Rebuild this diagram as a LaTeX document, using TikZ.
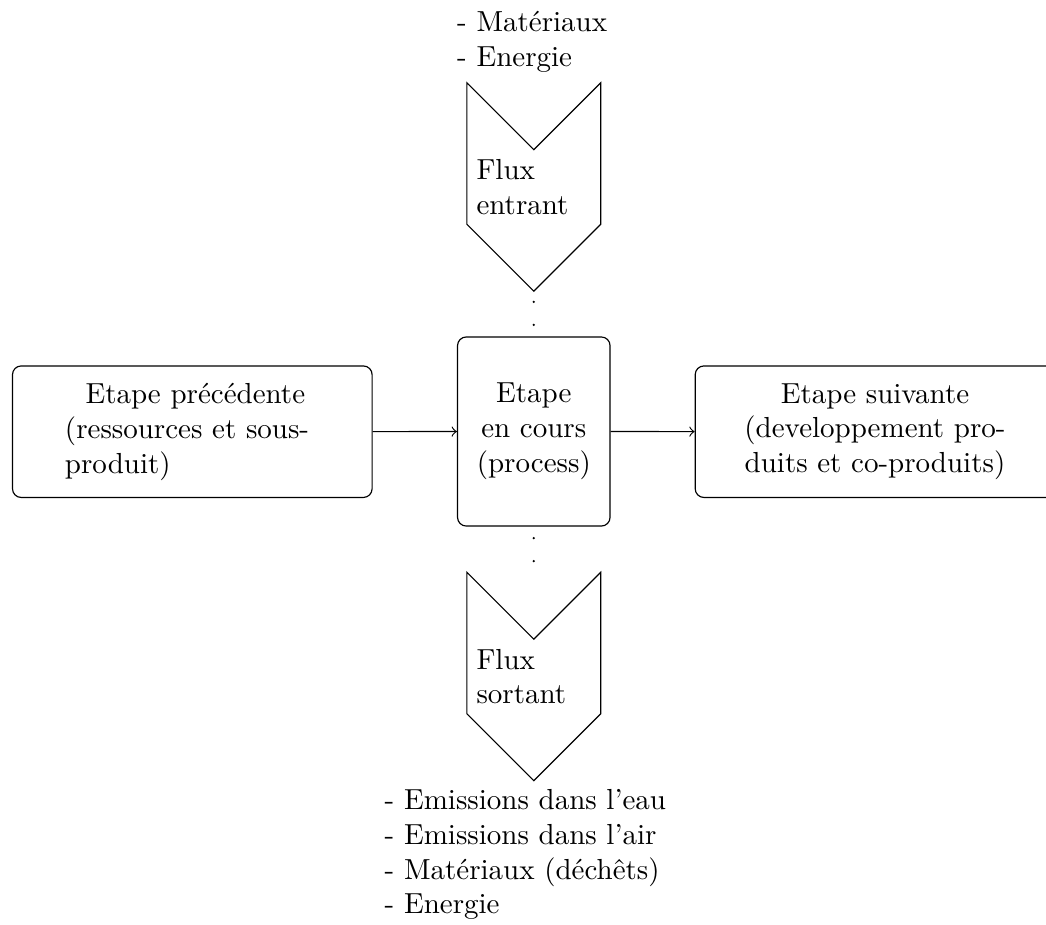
\documentclass[tikz,border=0pt]{standalone}
\usetikzlibrary{shapes.symbols}
\tikzset{
  stage/.style={draw, rounded corners=3pt, minimum width=124pt, minimum height=45.35pt, inner sep=3.33pt},
  flux/.style={draw, signal, signal from=north, signal to=south, text width=39.5pt, align=left, inner sep=3.33pt},
  flow/.style={->},
  dotconn/.style={line cap=round, line width=0.9pt, dash pattern=on 0pt off 7.93pt, dash phase=3.96pt},
  listtext/.style={align=left, inner sep=3.33pt}
}
\begin{document}
\begin{tikzpicture}[x=0.34483pt, y=-0.34483pt]
\useasboundingbox (0,0) rectangle (1046,925);
\node[stage, text width=87.8pt, align=left] (prev) at (192.3,431.7)
  {\hspace*{\fill}Etape précédente\kern5pt\mbox{}\\(ressources et sous-\\produit)};
\node[stage, minimum width=52.6pt, minimum height=65.2pt, align=center] (cur) at (533.8,431.5)
  {Etape\\en cours\\(process)};
\node[stage, align=center] (next) at (875,431.7)
  {Etape suivante\\(developpement pro-\\duits et co-produits)};
\node[flux] (in) at (533.8,187) {Flux entrant};
\node[flux] (out) at (533.8,676.5) {Flux sortant};
\node[listtext, anchor=north west] (inlist) at (447,1) {- Matériaux\\- Energie};
\node[listtext, anchor=south west] (outlist) at (374.5,930)
  {- Emissions dans l’eau\\- Emissions dans l’air\\- Matériaux (déchêts)\\- Energie};
\draw[flow] (prev) -- (cur);
\draw[flow] (cur) -- (next);
\draw[dotconn] (cur.north) -- (in.south);
\draw[dotconn, shorten >=22.8pt] (cur.south) -- (out.north);
\end{tikzpicture}
\end{document}
